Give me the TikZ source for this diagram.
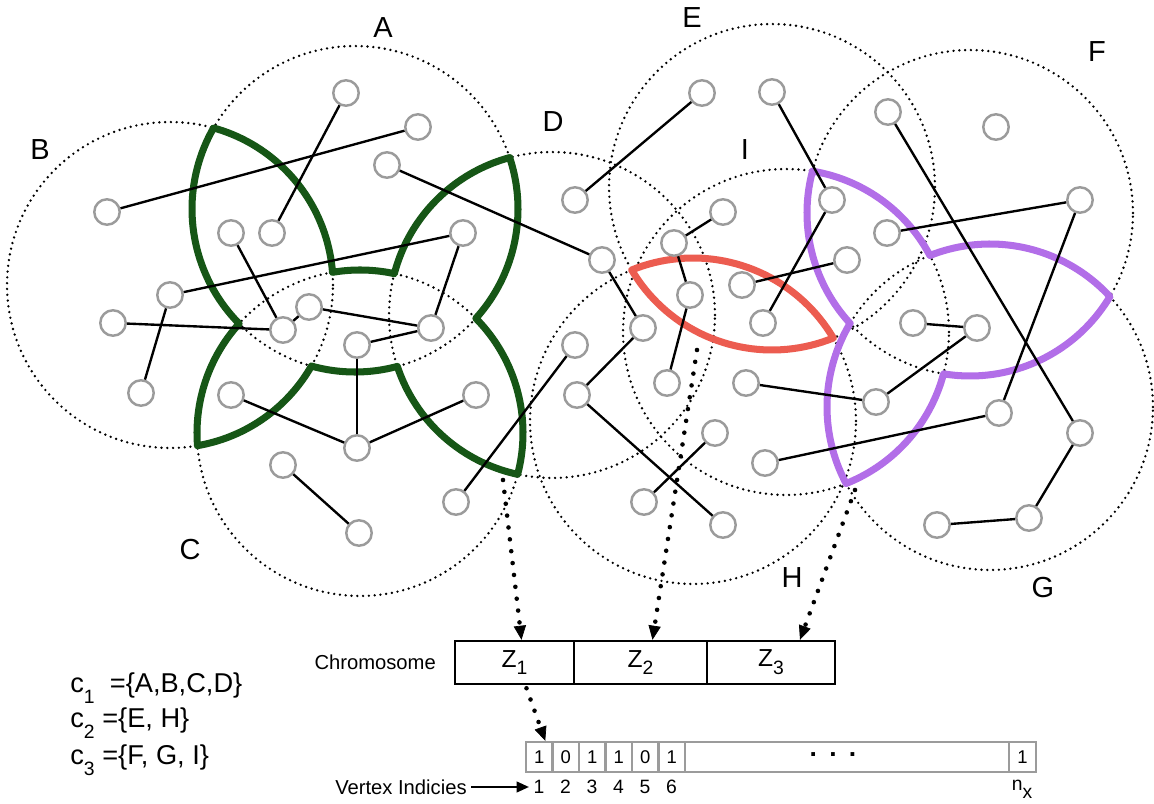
\documentclass[tikz,border=0pt]{standalone}
\usepackage{fontspec}
\setmainfont{Liberation Sans}
\usetikzlibrary{arrows.meta,calc}
\definecolor{cgreen}{RGB}{22,86,22}
\definecolor{cred}{RGB}{236,92,80}
\definecolor{cpurple}{RGB}{178,110,232}
\definecolor{vgray}{RGB}{155,155,155}
\begin{document}
\begin{tikzpicture}[x=0.02cm,y=-0.02cm,
  region/.style={line width=1.5pt, dash pattern=on 0pt off 3.3pt, line cap=round},
  vtx/.style={circle, draw=vgray, line width=1.4pt, fill=white, minimum size=14.5pt, inner sep=0pt},
  edge/.style={line width=1.35pt},
  cover/.style={line width=4pt, line join=round, samples=40},
  lbl/.style={font=\fontsize{16.5}{18}\selectfont},
  ptr/.style={line width=2.6pt, dash pattern=on 0pt off 6.8pt, line cap=round,
    -{Triangle[length=8pt,width=7pt,line width=0.4pt]}},
  zbox/.style={draw, line width=1.4pt, minimum height=0.86cm, inner sep=0pt, font=\fontsize{14}{16}\selectfont},
  bit/.style={draw=vgray, line width=1.4pt, minimum height=0.6cm, minimum width=0.53cm, inner sep=0pt, font=\fontsize{10.5}{12}\selectfont},
  idx/.style={font=\fontsize{11}{13}\selectfont, inner sep=0pt},
  legend/.style={anchor=west, font=\fontsize{15.5}{17}\selectfont, inner sep=0pt}]
\useasboundingbox (0,0) rectangle (1154,804);

% region centres
\coordinate (cA) at (355,209);
\coordinate (cB) at (170,285);
\coordinate (cC) at (360,433);
\coordinate (cD) at (552,315);
\coordinate (cE) at (772,187);
\coordinate (cF) at (970,213);
\coordinate (cG) at (990,407);
\coordinate (cH) at (693,421);
\coordinate (cI) at (786,332);
\foreach \c in {cA,cB,cC,cD,cE,cF,cG,cH,cI}
  \draw[region] (\c) circle[radius=3.26cm];

% labels of regions
\node[lbl] (lA) at (383,28) {A};
\node[lbl] (lB) at (40,150) {B};
\node[lbl] (lC) at (190,550) {C};
\node[lbl] (lD) at (553,122) {D};
\node[lbl] (lE) at (692,18) {E};
\node[lbl] (lF) at (1097,52) {F};
\node[lbl] (lG) at (1043,588) {G};
\node[lbl] (lH) at (792,578) {H};
\node[lbl] (lI) at (745,150) {I};

% coverage outlines
\draw[cover, cgreen]
  plot[domain=209.8:135.3] ({355+163*cos(\x)},{209+163*sin(\x)})
  -- plot[domain=222.1:175.5] ({360+163*cos(\x)},{433+163*sin(\x)})
  -- plot[domain=80.3:29.8] ({170+163*cos(\x)},{285+163*sin(\x)})
  -- plot[domain=105.5:75.0] ({355+163*cos(\x)},{209+163*sin(\x)})
  -- plot[domain=161.6:102.2] ({552+163*cos(\x)},{315+163*sin(\x)})
  -- plot[domain=14.7:-44.7] ({360+163*cos(\x)},{433+163*sin(\x)})
  -- plot[domain=42.1:-18.4] ({355+163*cos(\x)},{209+163*sin(\x)})
  -- plot[domain=255.0:194.7] ({552+163*cos(\x)},{315+163*sin(\x)})
  -- plot[domain=-77.85:-99.7] ({360+163*cos(\x)},{433+163*sin(\x)})
  -- plot[domain=-4.5:-74.5] ({170+163*cos(\x)},{285+163*sin(\x)}) -- cycle;
\draw[cover, cred]
  plot[domain=149.4:67.9] ({772+163*cos(\x)},{187+163*sin(\x)})
  -- plot[domain=-30.6:-112.1] ({693+163*cos(\x)},{421+163*sin(\x)}) -- cycle;
\draw[cover, cpurple]
  plot[domain=194.9:137.4] ({970+163*cos(\x)},{213+163*sin(\x)})
  -- plot[domain=210.9:152.0] ({990+163*cos(\x)},{407+163*sin(\x)})
  -- plot[domain=68.4:14.9] ({786+163*cos(\x)},{332+163*sin(\x)})
  -- plot[domain=99.3:30.9] ({970+163*cos(\x)},{213+163*sin(\x)})
  -- plot[domain=-42.6:-111.6] ({990+163*cos(\x)},{407+163*sin(\x)})
  -- plot[domain=-28.0:-80.7] ({786+163*cos(\x)},{332+163*sin(\x)}) -- cycle;

% vertices
\foreach \n/\p in {v1/{346,93},v2/{418,127},v3/{387,165},v4/{107,212},v5/{231,233},
  v6/{272,233},v7/{463,233},v8/{170,295},v9/{113,323},v10/{283,330},v11/{309,307},
  v12/{431,328},v13/{357,345},v14/{141,393},v15/{575,200},v16/{575,345},v17/{231,395},
  v18/{357,448},v19/{476,395},v20/{283,465},v21/{359,533},v22/{456,502},
  v24/{577,395},v25/{702,93},v26/{772,92},v27/{832,200},v28/{888,112},v29/{996,127},
  v30/{723,212},v31/{674,243},v32/{602,260},v33/{690,295},v34/{742,285},v35/{847,260},
  v36/{887,233},v37/{1080,200},v38/{763,323},v39/{643,328},v41/{913,323},v42/{977,328},
  v43/{667,383},v44/{746,383},v45/{876,402},v46/{715,433},v47/{765,463},v48/{644,502},
  v49/{723,525},v50/{1080,433},v51/{999,413},v52/{937,525},v53/{1029,518}}
  \node[vtx] (\n) at (\p) {};

% edges
\foreach \a/\b in {v4/v2,v6/v1,v3/v32,v8/v7,v9/v10,v8/v14,v5/v10,v10/v11,v11/v12,
  v7/v12,v13/v12,v13/v18,v17/v18,v18/v19,v20/v21,v22/v16,v15/v25,v26/v27,v27/v38,
  v31/v30,v31/v33,v33/v43,v32/v39,v39/v24,v24/v49,v48/v46,v34/v35,v36/v37,v28/v50,
  v37/v51,v41/v42,v42/v45,v44/v45,v47/v51,v52/v53,v53/v50}
  \draw[edge] (\a) -- (\b);

% chromosome
\node[zbox, minimum width=2.38cm] (z1) at (514.5,662.5) {Z\raisebox{-0.6ex}{\fontsize{11}{12}\selectfont 1}};
\node[zbox, minimum width=2.66cm] (z2) at (640.5,662.5) {Z\raisebox{-0.6ex}{\fontsize{11}{12}\selectfont 2}};
\node[zbox, minimum width=2.56cm] (z3) at (771,662.5) {Z\raisebox{-0.6ex}{\fontsize{11}{12}\selectfont 3}};
\node[anchor=east, font=\fontsize{11.5}{13}\selectfont] (chr) at (442,662) {Chromosome};

% bit string
\node[bit] (b1) at (539.25,757) {1};
\node[bit] (b2) at (565.75,757) {0};
\node[bit] (b3) at (592.25,757) {1};
\node[bit] (b4) at (618.75,757) {1};
\node[bit] (b5) at (645.25,757) {0};
\node[bit] (b6) at (671.75,757) {1};
\node[bit, minimum width=6.48cm] (bd) at (847,757) {};
\node[font=\fontsize{15}{16}\bfseries, inner sep=0pt] (dots) at (833,755) {.\hspace{7pt}.\hspace{7pt}.};
\node[bit, minimum width=0.54cm] (bn) at (1022.5,757) {1};

\node[idx] (i1) at (539,787) {1};
\node[idx] (i2) at (565.5,787) {2};
\node[idx] (i3) at (592,787) {3};
\node[idx] (i4) at (618.5,787) {4};
\node[idx] (i5) at (645,787) {5};
\node[idx] (i6) at (671.5,787) {6};
\node[idx] (inx) at (1022,789) {n\raisebox{-0.8ex}{x}};
\node[anchor=east, font=\fontsize{11.5}{13}\selectfont, inner sep=0pt] (vi) at (467,787) {Vertex Indicies};
\coordinate (vit) at (529,787);
\draw[line width=1.3pt, -{Triangle[length=7pt,width=6pt]}] ($(vi.east)+(4,0)$) -- (vit);

% pointers
\coordinate (s1) at (503,480);
\coordinate (s2) at (697,350);
\coordinate (s3) at (855,490);
\draw[ptr] (s1) -- ($(z1.north)+(7,0)$);
\draw[ptr] (s2) -- ($(z2.north)+(12,0)$);
\draw[ptr] (s3) -- ($(z3.north)+(29,0)$);
\draw[ptr] ($(z1.south)+(12,3)$) -- ($(b1.north)+(6,0)$);

% legend
\node[legend] (c1) at (70,688) {c\raisebox{-0.8ex}{\fontsize{11}{12}\selectfont 1}\ \ =\{A,B,C,D\}};
\node[legend] (c2) at (70,723) {c\raisebox{-0.8ex}{\fontsize{11}{12}\selectfont 2}\ =\{E, H\}};
\node[legend] (c3) at (70,760) {c\raisebox{-0.8ex}{\fontsize{11}{12}\selectfont 3}\ =\{F, G, I\}};
\end{tikzpicture}
\end{document}
